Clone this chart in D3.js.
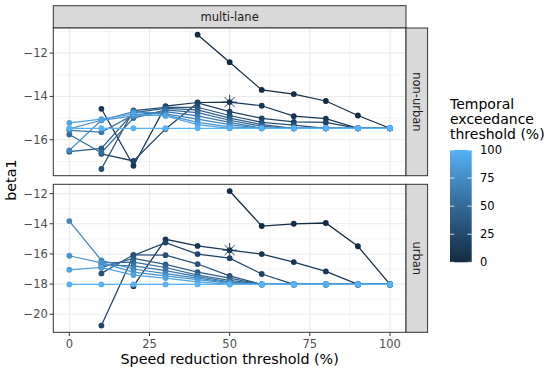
<!DOCTYPE html>
<html><head><meta charset="utf-8">
<script src="https://cdn.jsdelivr.net/npm/d3@7"></script>
<style>body{margin:0;background:#fff}svg{display:block;font-family:"DejaVu Sans",sans-serif}</style>
</head><body><svg id="c" width="550" height="372"></svg>
<script>
// ---- data ----
const speedThresholds = [0,10,20,30,40,50,60,70,80,90,100];
const temporalThresholds = [0,10,20,30,40,50,60,70,80,90,100];
const panelLabels = ["non-urban","urban"];
const columnLabel = "multi-lane";
// rows: temporal threshold, cols: speed threshold
const nonUrbanValues = [
  [null,null,null,null,-11.15,-12.42,-13.70,-13.89,-14.21,-14.88,-15.47],
  [null,-14.57,-17.20,-14.45,-14.28,-14.26,-14.43,-14.91,-15.03,-15.47,-15.47],
  [null,-16.65,-16.98,-15.50,-14.30,-14.70,-15.01,-15.18,-15.20,-15.47,-15.47],
  [null,-17.35,-14.65,-14.50,-14.50,-14.88,-15.20,-15.33,-15.47,-15.47,-15.47],
  [-16.55,-16.40,-14.75,-14.55,-14.62,-15.00,-15.30,-15.47,-15.47,-15.47,-15.47],
  [-15.76,-16.60,-15.00,-14.62,-14.75,-15.10,-15.38,-15.47,-15.47,-15.47,-15.47],
  [-15.57,-15.65,-14.85,-14.70,-14.90,-15.20,-15.47,-15.47,-15.47,-15.47,-15.47],
  [-16.49,-15.10,-14.70,-14.80,-15.05,-15.30,-15.47,-15.47,-15.47,-15.47,-15.47],
  [-15.50,-15.10,-14.90,-14.85,-15.20,-15.40,-15.47,-15.47,-15.47,-15.47,-15.47],
  [-15.22,-15.05,-14.80,-14.90,-15.30,-15.47,-15.47,-15.47,-15.47,-15.47,-15.47],
  [-15.47,-15.47,-15.47,-15.47,-15.47,-15.47,-15.47,-15.47,-15.47,-15.47,-15.47]
];
const urbanValues = [
  [null,null,null,null,null,-11.83,-14.15,-14.00,-13.95,-15.49,-18.02],
  [null,null,-18.14,-15.03,-15.47,-15.75,-16.01,-16.54,-17.16,-18.02,-18.02],
  [null,-20.75,-16.10,-15.25,-16.01,-16.28,-17.33,-18.02,-18.02,-18.02,-18.02],
  [null,-17.29,-16.06,-16.08,-16.67,-17.45,-18.02,-18.02,-18.02,-18.02,-18.02],
  [null,-16.90,-16.30,-16.70,-17.20,-17.60,-18.02,-18.02,-18.02,-18.02,-18.02],
  [null,-16.60,-16.55,-16.90,-17.40,-17.75,-18.02,-18.02,-18.02,-18.02,-18.02],
  [null,-16.75,-16.80,-17.10,-17.50,-17.85,-18.02,-18.02,-18.02,-18.02,-18.02],
  [-13.82,-16.43,-17.00,-17.30,-17.60,-17.90,-18.02,-18.02,-18.02,-18.02,-18.02],
  [-16.12,-16.60,-17.20,-17.45,-17.70,-17.95,-18.02,-18.02,-18.02,-18.02,-18.02],
  [-17.05,-16.90,-17.40,-17.60,-17.85,-18.02,-18.02,-18.02,-18.02,-18.02,-18.02],
  [-18.02,-18.02,-18.02,-18.02,-18.02,-18.02,-18.02,-18.02,-18.02,-18.02,-18.02]
];
const starSpeed = [50, 50];
const starBeta = [-14.26, -15.75];
const starTemporal = [10, 10];
const xTicks = [0,25,50,75,100];
const yTicksNonUrban = [-16,-14,-12];
const yTicksUrban = [-20,-18,-16,-14,-12];
const legendTicks = [0,25,50,75,100];

// ---- layout ----
const svg = d3.select("#c");
const L = 53.3, R = 406, stripW = 21.6;
const panels = [
  {vals: nonUrbanValues, top: 28, bot: 175.7, ticks: yTicksNonUrban, label: panelLabels[0]},
  {vals: urbanValues, top: 184.3, bot: 332.3, ticks: yTicksUrban, label: panelLabels[1]}
];
const color = d3.scaleLinear().domain([0,100]).range(["#132B43","#56B1F7"]).interpolate(d3.interpolateLab);
const x = d3.scaleLinear().domain([-5,105]).range([L,R]);
const fmt = v => (v<0 ? "\u2212"+Math.abs(v) : ""+v);
const small = 11.5, big = 14.3;

// top strip
svg.append("rect").attr("x",L).attr("y",5.7).attr("width",R-L).attr("height",28-5.7)
  .attr("fill","#D9D9D9").attr("stroke","#333").attr("stroke-width",1);
svg.append("text").attr("x",(L+R)/2).attr("y",16.9).attr("dy","0.35em").attr("text-anchor","middle")
  .attr("font-size",small).attr("fill","#1A1A1A").text(columnLabel);

panels.forEach((p,pi)=>{
  const all = p.vals.flat().filter(v=>v!==null);
  const mn = d3.min(all), mx = d3.max(all), pad = (mx-mn)*0.05;
  const y = d3.scaleLinear().domain([mn-pad, mx+pad]).range([p.bot,p.top]);
  const g = svg.append("g");
  g.append("rect").attr("x",L).attr("y",p.top).attr("width",R-L).attr("height",p.bot-p.top).attr("fill","#fff");
  // minor grid
  const ymin = [];
  for (let i=0;i<p.ticks.length-1;i++) ymin.push((p.ticks[i]+p.ticks[i+1])/2);
  ymin.push(p.ticks[0]-1, p.ticks[p.ticks.length-1]+1);
  const [d0,d1] = y.domain();
  ymin.filter(v=>v>d0&&v<d1).forEach(v=>g.append("line").attr("x1",L).attr("x2",R).attr("y1",y(v)).attr("y2",y(v)).attr("stroke","#EBEBEB").attr("stroke-width",0.55));
  [12.5,37.5,62.5,87.5].forEach(v=>g.append("line").attr("x1",x(v)).attr("x2",x(v)).attr("y1",p.top).attr("y2",p.bot).attr("stroke","#EBEBEB").attr("stroke-width",0.55));
  p.ticks.forEach(v=>g.append("line").attr("x1",L).attr("x2",R).attr("y1",y(v)).attr("y2",y(v)).attr("stroke","#EBEBEB").attr("stroke-width",1.1));
  xTicks.forEach(v=>g.append("line").attr("x1",x(v)).attr("x2",x(v)).attr("y1",p.top).attr("y2",p.bot).attr("stroke","#EBEBEB").attr("stroke-width",1.1));

  // lines
  const line = d3.line().defined(d=>d.v!==null).x(d=>x(d.s)).y(d=>y(d.v));
  p.vals.forEach((row,ti)=>{
    const pts = row.map((v,i)=>({s:speedThresholds[i], v}));
    g.append("path").attr("d",line(pts)).attr("fill","none").attr("stroke",color(temporalThresholds[ti])).attr("stroke-width",1.25);
  });
  // points
  p.vals.forEach((row,ti)=>{
    row.forEach((v,i)=>{ if(v===null) return;
      g.append("circle").attr("cx",x(speedThresholds[i])).attr("cy",y(v)).attr("r",2.9).attr("fill",color(temporalThresholds[ti]));
    });
  });
  // star
  const sx = x(starSpeed[pi]), sy = y(starBeta[pi]), sr = 7.2;
  const sc = color(starTemporal[pi]);
  [0,45,90,135].forEach(a=>{
    const r = a*Math.PI/180;
    g.append("line").attr("x1",sx-sr*Math.cos(r)).attr("y1",sy-sr*Math.sin(r)).attr("x2",sx+sr*Math.cos(r)).attr("y2",sy+sr*Math.sin(r)).attr("stroke",sc).attr("stroke-width",0.9);
  });
  // border
  g.append("rect").attr("x",L).attr("y",p.top).attr("width",R-L).attr("height",p.bot-p.top).attr("fill","none").attr("stroke","#333").attr("stroke-width",1);
  // y axis
  p.ticks.forEach(v=>{
    g.append("line").attr("x1",L-3.7).attr("x2",L).attr("y1",y(v)).attr("y2",y(v)).attr("stroke","#333").attr("stroke-width",1);
    g.append("text").attr("x",L-5.5).attr("y",y(v)).attr("dy","0.35em").attr("text-anchor","end").attr("font-size",small).attr("fill","#4D4D4D").text(fmt(v));
  });
  // right strip
  g.append("rect").attr("x",R).attr("y",p.top).attr("width",stripW).attr("height",p.bot-p.top).attr("fill","#D9D9D9").attr("stroke","#333").attr("stroke-width",1);
  const cy = (p.top+p.bot)/2, cx = R+stripW/2;
  g.append("text").attr("transform",`translate(${cx},${cy}) rotate(90)`).attr("dy","0.35em").attr("text-anchor","middle").attr("font-size",small).attr("fill","#1A1A1A").text(p.label);
});

// x axis
const bottom = panels[1].bot;
xTicks.forEach(v=>{
  svg.append("line").attr("x1",x(v)).attr("x2",x(v)).attr("y1",bottom).attr("y2",bottom+3.7).attr("stroke","#333").attr("stroke-width",1);
  svg.append("text").attr("x",x(v)).attr("y",bottom+11.2).attr("dy","0.35em").attr("text-anchor","middle").attr("font-size",small).attr("fill","#4D4D4D").text(v);
});
svg.append("text").attr("x",(L+R)/2).attr("y",364).attr("text-anchor","middle").attr("font-size",big).attr("fill","#000").text("Speed reduction threshold (%)");
svg.append("text").attr("transform",`translate(16,${(panels[0].top+panels[1].bot)/2}) rotate(-90)`).attr("text-anchor","middle").attr("font-size",big).attr("fill","#000").text("beta1");

// legend
const lg = svg.append("g");
["Temporal","exceedance","threshold (%)"].forEach((t,i)=>{
  lg.append("text").attr("x",450).attr("y",108.5+i*15).attr("font-size",14).attr("fill","#000").text(t);
});
const defs = svg.append("defs");
const grad = defs.append("linearGradient").attr("id","lgrad").attr("x1",0).attr("y1",1).attr("x2",0).attr("y2",0);
d3.range(0,101,10).forEach(v=>grad.append("stop").attr("offset",v/100).attr("stop-color",color(v)));
const ly = d3.scaleLinear().domain([0,100]).range([262.3,150]);
const bx = 450, bw = 21.7;
lg.append("rect").attr("x",bx).attr("y",ly(100)).attr("width",bw).attr("height",ly(0)-ly(100)).attr("fill","url(#lgrad)");
legendTicks.forEach(v=>{
  lg.append("line").attr("x1",bx).attr("x2",bx+bw/5).attr("y1",ly(v)).attr("y2",ly(v)).attr("stroke","#fff").attr("stroke-width",0.8);
  lg.append("line").attr("x1",bx+bw-bw/5).attr("x2",bx+bw).attr("y1",ly(v)).attr("y2",ly(v)).attr("stroke","#fff").attr("stroke-width",0.8);
  lg.append("text").attr("x",480).attr("y",ly(v)).attr("dy","0.35em").attr("font-size",small).attr("fill","#000").text(v);
});
</script></body></html>
